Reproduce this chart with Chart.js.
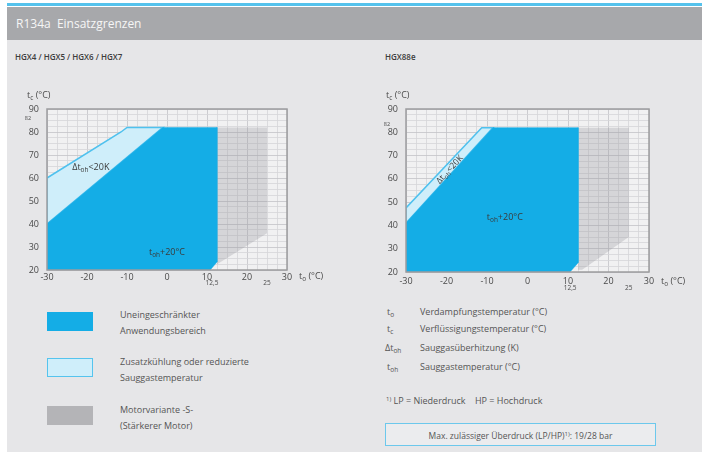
<!DOCTYPE html>
<html><head><meta charset="utf-8">
<script src="https://cdn.jsdelivr.net/npm/chart.js@4.4.0/dist/chart.umd.min.js"></script>
<style>
html,body{margin:0;padding:0;background:#fff;width:702px;height:455px;overflow:hidden;font-family:"Open Sans",sans-serif;}
.abs{position:absolute;}
#topline{left:7px;top:3px;width:695px;height:3px;background:#55c2ec;}
#header{left:7px;top:7px;width:695px;height:33px;background:#a7a8ab;}
#header span{position:absolute;left:9px;top:8px;color:#f6f6f6;font-size:12px;}
#panel{left:7px;top:40px;width:695px;height:412px;background:#e6e6e8;}
.title{font-size:8px;font-weight:600;color:#3c3c3c;}
.sw{width:46px;height:19px;box-sizing:border-box;}
.lt{font-size:9px;color:#555;line-height:15.5px;}
.sy{font-size:9px;color:#555;}
sub{font-size:6.5px;vertical-align:-2px;}
#box{left:385px;top:423px;width:271px;height:23px;box-sizing:border-box;border:1.5px solid #6cc8ec;background:#ebecee;font-size:8.5px;color:#555;text-align:center;line-height:20px;}
canvas{position:absolute;}
</style></head>
<body>
<div id="topline" class="abs"></div>
<div id="header" class="abs"><span>R134a&nbsp; Einsatzgrenzen</span></div>
<div id="panel" class="abs"></div>
<div class="abs title" style="left:15px;top:51px;">HGX4 / HGX5 / HGX6 / HGX7</div>
<div class="abs title" style="left:385px;top:51px;">HGX88e</div>

<div class="abs sw" style="left:47px;top:312px;background:#14ade6;"></div>
<div class="abs sw" style="left:47px;top:358px;background:#cfeefa;border:1.5px solid #55c4ee;"></div>
<div class="abs sw" style="left:47px;top:406px;background:#b4b4b7;border:1.5px solid #9d9d a0;border-color:#9d9da0;"></div>
<div class="abs lt" style="left:120px;top:307px;">Uneingeschränkter<br>Anwendungsbereich</div>
<div class="abs lt" style="left:120px;top:354px;">Zusatzkühlung oder reduzierte<br>Sauggastemperatur</div>
<div class="abs lt" style="left:120px;top:402px;">Motorvariante -S-<br>(Stärkerer Motor)</div>

<div class="abs sy" style="left:387px;top:305px;">t<sub>o</sub></div>
<div class="abs sy" style="left:420px;top:305px;">Verdampfungstemperatur (°C)</div>
<div class="abs sy" style="left:387px;top:322px;">t<sub>c</sub></div>
<div class="abs sy" style="left:420px;top:322px;">Verflüssigungstemperatur (°C)</div>
<div class="abs sy" style="left:385px;top:341px;">Δt<sub>oh</sub></div>
<div class="abs sy" style="left:420px;top:341px;">Sauggasüberhitzung (K)</div>
<div class="abs sy" style="left:387px;top:360px;">t<sub>oh</sub></div>
<div class="abs sy" style="left:420px;top:360px;">Sauggastemperatur (°C)</div>
<div class="abs sy" style="left:386px;top:394px;"><span style="font-size:6px;vertical-align:3px">1)</span> LP = Niederdruck &nbsp;&nbsp; HP = Hochdruck</div>
<div id="box" class="abs">Max. zulässiger Überdruck (LP/HP)<span style="font-size:6px;vertical-align:3px">1)</span>: 19/28 bar</div>

<canvas id="c1" width="340" height="220" style="left:0px;top:80px;width:340px;height:220px;"></canvas>
<canvas id="c2" width="342" height="220" style="left:360px;top:80px;width:342px;height:220px;"></canvas>

<script>
// ---- data (°C) ----
const xTickMin = -30, xTickMax = 30;
const yTickMin = 20, yTickMax = 90;
const extraXLabels = ['12,5', '25'];
const extraXValues = [12.5, 25];

const leftBlue  = [[-30,20],[-30,40],[-1,82],[12.5,82],[12.5,23.5],[10.8,20],[-30,20]];
const leftLight = [[-30,40],[-30,60],[-11.5,80],[-10,82],[-1,82],[-30,40]];
const leftGray  = [[12.5,82],[25,82],[25,36],[12.5,22.5],[12.5,82]];

const rightBlue  = [[-30,20],[-30,41],[-8.5,82],[12.5,82],[12.5,24],[10.5,20],[-30,20]];
const rightLight = [[-30,41],[-30,47.5],[-11.3,82],[-8.5,82],[-30,41]];
const rightGray  = [[12.5,82],[25,82],[25,35],[13.5,21],[12.5,21],[12.5,82]];

const FONT = '"Open Sans", sans-serif';
const TXT = '#4a4a4a';

function pts(a){ return a.map(p => ({x:p[0], y:p[1]})); }

function drawSub(ctx, parts, x, y, align, size){
  size = size || 9;
  const sub = size*0.72;
  let w = 0;
  parts.forEach(p => { ctx.font = (p[1]?sub:size)+'px '+FONT; w += ctx.measureText(p[0]).width; });
  let cx = align === 'center' ? x - w/2 : (align === 'right' ? x - w : x);
  ctx.textAlign = 'left'; ctx.textBaseline = 'middle';
  parts.forEach(p => {
    ctx.font = (p[1]?sub:size)+'px '+FONT;
    ctx.fillText(p[0], cx, y + (p[1]? size*0.3 : 0));
    cx += ctx.measureText(p[0]).width;
  });
}

const envPlugin = {
  id: 'env',
  beforeDraw(chart, args, opts){
    const {ctx, chartArea:a} = chart;
    ctx.save(); ctx.fillStyle = '#f1f1f2';
    ctx.fillRect(a.left, a.top, a.right-a.left, a.bottom-a.top);
    ctx.restore();
  },
  afterDraw(chart, args, opts){
    const {ctx, chartArea:a, scales:{x, y}} = chart;
    ctx.save();
    ctx.strokeStyle = '#9c9c9e'; ctx.lineWidth = 1.5;
    ctx.strokeRect(a.left, a.top, a.right-a.left, a.bottom-a.top);
    ctx.fillStyle = TXT;
    // axis titles
    drawSub(ctx, [['t',false],['c',true],[' (°C)',false]], a.left-20, a.top-14, 'left', 9);
    drawSub(ctx, [['t',false],['o',true],[' (°C)',false]], a.right+12, a.bottom+opts.tickDy, 'left', 9);
    // extra sub tick labels
    ctx.font = '6.5px '+FONT; ctx.textAlign = 'center'; ctx.textBaseline = 'middle';
    ctx.fillText(extraXLabels[0], x.getPixelForValue(extraXValues[0]) + opts.sub1Dx, a.bottom + opts.subDy);
    ctx.fillText(extraXLabels[1], x.getPixelForValue(extraXValues[1]), a.bottom + opts.subDy);
    ctx.font = '5.5px '+FONT;
    ctx.fillText('82', a.left - 19, y.getPixelForValue(82) + opts.tiny);
    // annotations
    ctx.fillStyle = '#3a3a3a';
    if (opts.rot) {
      const p1x = x.getPixelForValue(opts.edge[0][0]), p1y = y.getPixelForValue(opts.edge[0][1]);
      const p2x = x.getPixelForValue(opts.edge[1][0]), p2y = y.getPixelForValue(opts.edge[1][1]);
      ctx.save();
      ctx.translate(x.getPixelForValue(opts.dt[0]), y.getPixelForValue(opts.dt[1]));
      ctx.rotate(Math.atan2(p2y-p1y, p2x-p1x));
      drawSub(ctx, [['Δt',false],['oh',true],['<20K',false]], 0, 0, 'center', 8.5);
      ctx.restore();
    } else {
      drawSub(ctx, [['Δt',false],['oh',true],['<20K',false]], x.getPixelForValue(opts.dt[0]), y.getPixelForValue(opts.dt[1]), 'left', 9);
    }
    drawSub(ctx, [['t',false],['oh',true],['+20°C',false]], x.getPixelForValue(opts.toh[0]), y.getPixelForValue(opts.toh[1]), 'center', 9);
    ctx.restore();
  }
};

function makeChart(id, blue, light, gray, lay, popts){
  return new Chart(document.getElementById(id), {
    type: 'scatter',
    data: { datasets: [
      {data: pts(blue), showLine:true, fill:'shape', backgroundColor:'#14ade6', borderColor:'#14ade6', borderWidth:0.5, pointRadius:0, tension:0},
      {data: pts(light), showLine:true, fill:'shape', backgroundColor:'#cfeefa', borderColor:'#4fc1ee', borderWidth:1.5, pointRadius:0, tension:0},
      {data: pts(gray), showLine:true, fill:'shape', backgroundColor:'rgba(150,150,155,0.30)', borderColor:'rgba(0,0,0,0)', borderWidth:0, pointRadius:0, tension:0}
    ]},
    options: {
      responsive:false, animation:false, events:[],
      layout:{padding:{left:0, right:lay.right, top:lay.top, bottom:lay.bottom}},
      plugins:{legend:{display:false}, tooltip:{enabled:false}, env: popts},
      scales:{
        x:{type:'linear', min:xTickMin, max:xTickMax,
           afterFit(s){ s.height = 20; },
           border:{display:false},
           grid:{drawTicks:false, lineWidth:0.8, color:c => (c.tick && c.tick.value % 10 === 0) ? '#c3c3c6' : '#d6d6d8'},
           ticks:{stepSize:2.5, autoSkip:false, maxRotation:0, padding:lay.tickPad, color:TXT, font:{size:9, family:FONT},
                  callback:v => (v % 10 === 0 ? String(v) : '')}},
        y:{type:'linear', min:yTickMin, max:yTickMax,
           afterFit(s){ s.width = lay.left; },
           border:{display:false},
           grid:{drawTicks:false, lineWidth:0.8, color:c => (c.tick && c.tick.value % 10 === 0) ? '#c3c3c6' : '#d6d6d8'},
           ticks:{stepSize:2.5, autoSkip:false, padding:8, color:TXT, font:{size:9, family:FONT},
                  callback:v => (v % 10 === 0 ? String(v) : '')}}
      }
    },
    plugins:[envPlugin]
  });
}

makeChart('c1', leftBlue, leftLight, leftGray,
  {left:47, right:53, top:29, bottom:10, tickPad:2},
  {tickDy:6, subDy:13, sub1Dx:-5, tiny:-9, rot:false, dt:[-23.7,64.5], toh:[0,27.7]});
makeChart('c2', rightBlue, rightLight, rightGray,
  {left:46, right:53, top:29, bottom:8, tickPad:4},
  {tickDy:9, subDy:16, sub1Dx:-8, tiny:-3, rot:true, edge:[[-30,44],[-10,82]], dt:[-19.2,64], toh:[-5.6,43.3]});
</script>
</body></html>
